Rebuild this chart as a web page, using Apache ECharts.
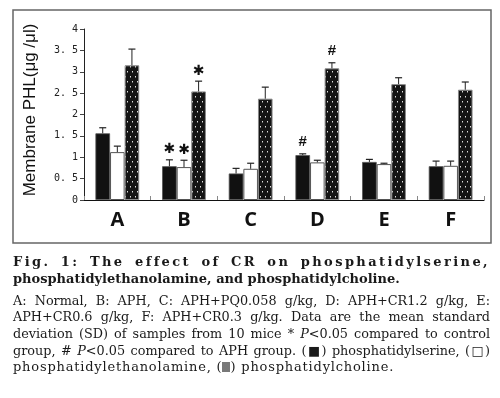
<!DOCTYPE html>
<html><head><meta charset="utf-8">
<script src="https://cdn.jsdelivr.net/npm/echarts@6/dist/echarts.min.js"></script>
<style>
html,body{margin:0;padding:0;background:#fff;}
#wrap{position:relative;width:500px;height:398px;}
#chart{position:absolute;left:0;top:0;width:500px;height:398px;}
.cap{position:absolute;left:13px;width:477px;font-family:"DejaVu Serif",serif;font-size:12.8px;line-height:16px;color:#1a1a1a;}
.j{text-align:justify;text-align-last:justify;}
.l{letter-spacing:0.8px;font-size:13px;}
.b{font-weight:bold;font-size:13px;}
.pat{display:inline-block;width:8px;height:10px;vertical-align:-1px;background-color:#222;background-image:radial-gradient(#ddd 0.6px,transparent 0.8px);background-size:2px 2px;}
</style></head>
<body><div id="wrap"><div id="chart"></div>
<div class="cap b j" style="top:254px;letter-spacing:2.4px;">Fig. 1: The effect of CR on phosphatidylserine,</div>
<div class="cap b" style="top:271px;">phosphatidylethanolamine, and phosphatidylcholine.</div>
<div class="cap j" style="top:293px;">A: Normal, B: APH, C: APH+PQ0.058 g/kg, D: APH+CR1.2 g/kg, E:</div>
<div class="cap j" style="top:309px;">APH+CR0.6 g/kg, F: APH+CR0.3 g/kg. Data are the mean standard</div>
<div class="cap j" style="top:326px;">deviation (SD) of samples from 10 mice * <i>P</i>&lt;0.05 compared to control</div>
<div class="cap j" style="top:343px;">group, # <i>P</i>&lt;0.05 compared to APH group. (&#9632;) phosphatidylserine, (&#9633;)</div>
<div class="cap l" style="top:359px;">phosphatidylethanolamine, (<span class="pat"></span>) phosphatidylcholine.</div>
</div>
<script>
var categories = ['A','B','C','D','E','F'];
var yTicks = [0,0.5,1,1.5,2,2.5,3,3.5,4];
var yTitle = 'Membrane PHL(\u03bcg /\u03bcl)';
var psValues = [1.56,0.79,0.62,1.05,0.89,0.79];
var psErrors = [0.13,0.15,0.12,0.03,0.06,0.12];
var peValues = [1.12,0.77,0.73,0.88,0.84,0.80];
var peErrors = [0.14,0.16,0.13,0.05,0.02,0.11];
var pcValues = [3.15,2.54,2.37,3.08,2.71,2.58];
var pcErrors = [0.38,0.24,0.27,0.13,0.15,0.18];
var psMarks = ['','*','','#','',''];
var peMarks = ['','*','','','',''];
var pcMarks = ['','*','','#','',''];

var BW = 14.6;
function makePattern(){
  var c = document.createElement('canvas'); c.width = 5; c.height = 10;
  var g = c.getContext('2d');
  g.fillStyle = '#141414'; g.fillRect(0,0,5,10);
  g.fillStyle = '#e0e0e0'; g.fillRect(2,1,1,1); g.fillRect(0,6,1,1);
  g.fillStyle = '#777'; g.fillRect(2,2,1,1); g.fillRect(0,7,1,1);
  return c;
}
var chart = echarts.init(document.getElementById('chart'), null, {renderer:'canvas'});

function errSeries(vals, errs, marks, off){
  return {
    type:'custom', z:5,
    data: vals.map(function(v,i){return [i, v, v+errs[i]];}),
    encode:{x:0,y:[1,2]},
    renderItem:function(params, api){
      var i = api.value(0);
      var p0 = api.coord([i, api.value(1)]);
      var p1 = api.coord([i, api.value(2)]);
      var x = p0[0] + off;
      var ch = [
        {type:'line', shape:{x1:x,y1:p0[1],x2:x,y2:p1[1]}, style:{stroke:'#222',lineWidth:1}},
        {type:'line', shape:{x1:x-3.5,y1:p1[1],x2:x+3.5,y2:p1[1]}, style:{stroke:'#222',lineWidth:1.2}}
      ];
      var m = marks[params.dataIndex];
      if (m) {
        var star = m === '*';
        ch.push({type:'text', style:{text: star ? '\u2731' : '#', x:x, y:p1[1] - (star ? 10 : 12),
          align:'center', verticalAlign:'middle',
          font: star ? 'bold 14px "DejaVu Sans"' : 'bold 15px "Liberation Sans"', fill:'#111'}});
      }
      return {type:'group', children:ch};
    }
  };
}

chart.setOption({
  animation:false,
  graphic:[
    {type:'rect', shape:{x:13,y:10,width:478,height:233}, style:{fill:'none',stroke:'#666',lineWidth:1.5}, z:0},
    {type:'text', x:30, y:110, rotation:Math.PI/2, style:{text:yTitle, align:'center', verticalAlign:'middle',
      font:'17px "Liberation Sans"', fill:'#111'}}
  ],
  grid:{left:84,right:16,top:29,bottom:198},
  xAxis:{type:'category', data:categories,
    axisLine:{lineStyle:{color:'#111',width:1.2}},
    axisTick:{show:true, inside:true, length:4, alignWithLabel:false, lineStyle:{color:'#888'}},
    axisLabel:{margin:10, fontFamily:'"Open Sans"', fontWeight:'bold', fontSize:20, color:'#111'}
  },
  yAxis:{type:'value', min:0, max:4, interval:0.5,
    axisLine:{show:true, lineStyle:{color:'#222'}},
    axisTick:{show:true, length:4, lineStyle:{color:'#444'}},
    splitLine:{show:false},
    axisLabel:{margin:6, fontFamily:'"DejaVu Sans Mono"', fontSize:10, color:'#222',
      formatter:function(v){ return v.toFixed(v % 1 ? 1 : 0).replace('.', '. '); }}
  },
  series:[
    {type:'bar', name:'phosphatidylserine', data:psValues, barWidth:BW, barGap:'0%',
      itemStyle:{color:'#111', borderColor:'#555', borderWidth:0.8}},
    {type:'bar', name:'phosphatidylethanolamine', data:peValues, barWidth:BW, barGap:'0%',
      itemStyle:{color:'#fff', borderColor:'#555', borderWidth:1}},
    {type:'bar', name:'phosphatidylcholine', data:pcValues, barWidth:BW, barGap:'0%',
      itemStyle:{color:{image:makePattern(), repeat:'repeat'}, borderColor:'#888', borderWidth:1}},
    errSeries(psValues, psErrors, psMarks, -BW),
    errSeries(peValues, peErrors, peMarks, 0),
    errSeries(pcValues, pcErrors, pcMarks, BW)
  ]
});
</script></body></html>
